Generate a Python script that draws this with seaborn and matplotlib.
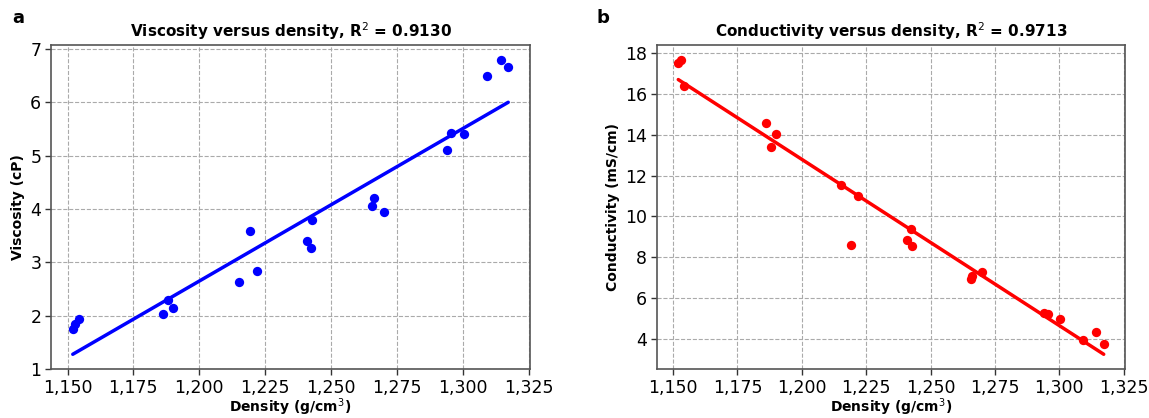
import numpy as np
import pandas as pd
import matplotlib
matplotlib.use("Agg")
import matplotlib.pyplot as plt
import seaborn as sns
from matplotlib.ticker import FuncFormatter, MultipleLocator

density = [1.1520, 1.1530, 1.1542, 1.1862, 1.1880, 1.1899, 1.2152, 1.2192, 1.2220,
           1.2410, 1.2425, 1.2429, 1.2656, 1.2662, 1.2701, 1.2942, 1.2957, 1.3004,
           1.3093, 1.3144, 1.3173]
viscosity = [1.74, 1.85, 1.94, 2.03, 2.29, 2.14, 2.63, 3.58, 2.83,
             3.39, 3.27, 3.80, 4.05, 4.20, 3.95, 5.11, 5.43, 5.40,
             6.50, 6.80, 6.66]
conductivity = [17.51, 17.67, 16.37, 14.55, 13.38, 14.05, 11.54, 8.61, 11.00,
                8.86, 9.37, 8.57, 6.93, 7.10, 7.27, 5.28, 5.20, 4.99,
                3.96, 4.36, 3.74]
titles = ["Viscosity versus density, R$^2$ = 0.9130",
          "Conductivity versus density, R$^2$ = 0.9713"]
ylabels = ["Viscosity (cP)", "Conductivity (mS/cm)"]
xlabel = "Density (g/cm$^3$)"
letters = ["a", "b"]
colors = ["blue", "red"]

df = pd.DataFrame({"density": density, "viscosity": viscosity,
                   "conductivity": conductivity})

sns.set_style("white")
plt.rcParams["font.family"] = ["DejaVu Sans"]
plt.rcParams.update({"text.color": "black", "axes.labelcolor": "black",
                     "xtick.color": "black", "ytick.color": "black"})

fig = plt.figure(figsize=(11.49, 4.18), dpi=100)
W, H = 1149, 418
ax1 = fig.add_axes([51 / W, 1 - 369 / H, (530 - 51) / W, (369 - 45) / H])
ax2 = fig.add_axes([657 / W, 1 - 369 / H, (1125 - 657) / W, (369 - 45) / H])

for ax, ycol, c, t, yl in zip([ax1, ax2], ["viscosity", "conductivity"],
                              colors, titles, ylabels):
    sns.scatterplot(data=df, x="density", y=ycol, ax=ax, color=c, s=45,
                    edgecolor=c, linewidth=0, zorder=3)
    sns.regplot(data=df, x="density", y=ycol, ax=ax, scatter=False, ci=None,
                color=c, line_kws={"linewidth": 2.5, "zorder": 2})
    ax.set_title(t, fontsize=11, fontweight="bold", pad=6, color="black")
    ax.set_xlabel(xlabel, fontsize=10, fontweight="bold", labelpad=0, color="black")
    ax.set_ylabel(yl, fontsize=10, fontweight="bold", color="black")
    ax.xaxis.set_major_locator(MultipleLocator(0.025))
    ax.xaxis.set_major_formatter(FuncFormatter(lambda v, p: f"{v:,.3f}".replace(".", ",")))
    ax.tick_params(axis="both", which="major", length=4, width=1, color="#333333",
                   labelcolor="black", labelsize=12.5,
                   bottom=True, left=True, direction="out", pad=3)
    ax.grid(True, linestyle="--", color="#aaaaaa", linewidth=0.8)
    ax.set_axisbelow(True)
    for s in ax.spines.values():
        s.set_color("#555555")
        s.set_linewidth(1.2)
        s.set_visible(True)
    ax.margins(x=0.05, y=0.05)

ax1.yaxis.set_major_locator(MultipleLocator(1))
ax2.yaxis.set_major_locator(MultipleLocator(2))

fig.text(12 / W, 1 - 18 / H, letters[0], fontsize=13, fontweight="bold", va="center")
fig.text(597 / W, 1 - 18 / H, letters[1], fontsize=13, fontweight="bold", va="center")

fig.savefig("out.png", dpi=100)
